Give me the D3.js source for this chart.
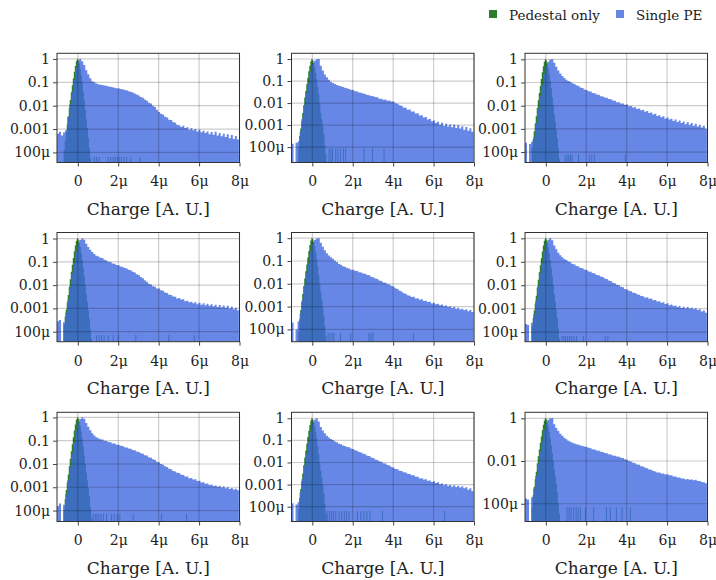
<!DOCTYPE html>
<html>
<head>
<meta charset="utf-8">
<script src="https://cdn.jsdelivr.net/npm/d3@7/dist/d3.min.js"></script>
<style>
  html, body { margin: 0; padding: 0; background: #fff; }
  svg { display: block; font-family: 'DejaVu Serif', serif; }
</style>
</head>
<body>
<div id="chart"></div>
<script>
// Pedestal vs single-PE charge histograms, 3x3 channels, log y.
// Heights are log10 of normalised counts.

// Single PE histogram: 90 bins of 0.1 uA.U. starting at -1.03 u
const speBinStart = -1.03;
const speBinWidth = 0.1;
const speLog1 = [-3.2,-3.12,-3.28,-3.15,-3.05,-2.5,-1.95,-1.4,-0.9,-0.4,-0.1,0,-0.1,-0.26,-0.48,-0.66,-0.83,-0.95,-1.0,-1.05,
  -1.08,-1.1,-1.12,-1.14,-1.15,-1.18,-1.19,-1.21,-1.23,-1.25,
  -1.26,-1.29,-1.30,-1.33,-1.34,-1.38,-1.40,-1.44,-1.48,-1.52,
  -1.57,-1.63,-1.66,-1.74,-1.79,-1.87,-1.91,-2.00,-2.06,-2.17,
  -2.27,-2.35,-2.38,-2.47,-2.51,-2.60,-2.61,-2.70,-2.73,-2.82,
  -2.84,-2.91,-2.86,-2.95,-2.92,-3.03,-2.97,-3.05,-3.0,-3.1,
  -3.03,-3.14,-3.07,-3.17,-3.1,-3.22,-3.13,-3.24,-3.12,-3.28,
  -3.17,-3.31,-3.2,-3.34,-3.22,-3.39,-3.25,-3.42,-3.3,-3.45];
const speLog2 = [-3.85,null,-3.8,-3.75,-3.3,-2.7,-2.1,-1.55,-1.1,-0.58,-0.25,-0.08,-0.01,0,-0.3,-0.52,-0.7,-0.83,-0.94,-1.03,
  -1.09,-1.13,-1.18,-1.21,-1.24,-1.27,-1.31,-1.33,-1.36,-1.40,
  -1.41,-1.46,-1.48,-1.52,-1.53,-1.57,-1.59,-1.63,-1.64,-1.68,
  -1.69,-1.73,-1.74,-1.8,-1.8,-1.85,-1.84,-1.9,-1.88,-1.93,
  -1.93,-2.01,-2.03,-2.1,-2.12,-2.2,-2.21,-2.3,-2.29,-2.38,
  -2.38,-2.48,-2.46,-2.57,-2.55,-2.66,-2.63,-2.75,-2.72,-2.83,
  -2.79,-2.91,-2.85,-2.98,-2.9,-3.04,-2.94,-3.07,-2.97,-3.1,
  -2.98,-3.13,-3.01,-3.16,-3.05,-3.21,-3.09,-3.26,-3.14,-3.3];
const speLog3 = [-3.6,null,-3.65,-3.55,-3.35,-2.75,-2.15,-1.6,-1.12,-0.62,-0.28,-0.1,-0.02,0,-0.15,-0.32,-0.48,-0.61,-0.72,-0.81,
  -0.88,-0.93,-0.97,-1.03,-1.06,-1.12,-1.15,-1.21,-1.24,-1.3,
  -1.32,-1.38,-1.39,-1.45,-1.46,-1.52,-1.53,-1.59,-1.6,-1.65,
  -1.66,-1.71,-1.72,-1.78,-1.79,-1.85,-1.85,-1.9,-1.9,-1.96,
  -1.95,-2.02,-2.01,-2.08,-2.07,-2.14,-2.12,-2.2,-2.18,-2.26,
  -2.23,-2.32,-2.29,-2.38,-2.35,-2.44,-2.41,-2.5,-2.46,-2.56,
  -2.51,-2.6,-2.56,-2.66,-2.6,-2.7,-2.64,-2.75,-2.68,-2.8,
  -2.71,-2.82,-2.75,-2.86,-2.78,-2.9,-2.82,-2.94,-2.86,-2.99];
const speLog4 = [-3.55,-3.5,null,-3.6,-3.2,-2.65,-2.05,-1.5,-1.05,-0.55,-0.22,-0.06,0,-0.05,-0.22,-0.36,-0.48,-0.58,-0.66,-0.74,
  -0.77,-0.82,-0.84,-0.91,-0.94,-1.0,-1.01,-1.07,-1.08,-1.14,
  -1.15,-1.2,-1.22,-1.27,-1.29,-1.34,-1.36,-1.43,-1.46,-1.53,
  -1.57,-1.65,-1.7,-1.79,-1.85,-1.94,-1.97,-2.05,-2.07,-2.14,
  -2.15,-2.22,-2.24,-2.32,-2.34,-2.41,-2.42,-2.49,-2.5,-2.57,
  -2.55,-2.62,-2.61,-2.69,-2.67,-2.74,-2.71,-2.78,-2.74,-2.82,
  -2.76,-2.84,-2.78,-2.86,-2.8,-2.89,-2.82,-2.91,-2.84,-2.94,
  -2.85,-2.95,-2.87,-2.97,-2.89,-3.0,-2.93,-3.04,-2.97,-3.08];
const speLog5 = [-3.7,null,-4.0,-3.65,-3.3,-2.7,-2.1,-1.55,-1.1,-0.58,-0.25,-0.08,-0.01,0,-0.2,-0.37,-0.53,-0.66,-0.76,-0.84,
  -0.9,-0.99,-1.04,-1.13,-1.17,-1.23,-1.25,-1.31,-1.33,-1.38,
  -1.38,-1.43,-1.44,-1.49,-1.5,-1.55,-1.56,-1.61,-1.63,-1.69,
  -1.71,-1.77,-1.79,-1.86,-1.88,-1.94,-1.95,-2.01,-2.03,-2.09,
  -2.12,-2.2,-2.23,-2.3,-2.34,-2.41,-2.44,-2.5,-2.52,-2.58,
  -2.57,-2.64,-2.63,-2.7,-2.68,-2.75,-2.74,-2.8,-2.79,-2.86,
  -2.83,-2.9,-2.87,-2.94,-2.91,-2.98,-2.95,-3.02,-2.98,-3.06,
  -3.02,-3.1,-3.05,-3.13,-3.09,-3.16,-3.12,-3.2,-3.15,-3.24];
const speLog6 = [-3.65,-3.7,null,-3.6,-3.25,-2.65,-2.05,-1.5,-1.05,-0.55,-0.22,-0.06,0,-0.08,-0.31,-0.47,-0.61,-0.72,-0.81,-0.88,
  -0.92,-0.99,-1.02,-1.09,-1.12,-1.18,-1.2,-1.26,-1.28,-1.33,
  -1.35,-1.41,-1.42,-1.48,-1.5,-1.56,-1.57,-1.63,-1.65,-1.71,
  -1.73,-1.8,-1.82,-1.89,-1.92,-1.98,-2.0,-2.06,-2.09,-2.16,
  -2.18,-2.24,-2.26,-2.32,-2.33,-2.39,-2.41,-2.46,-2.47,-2.53,
  -2.51,-2.58,-2.57,-2.64,-2.63,-2.69,-2.68,-2.75,-2.73,-2.8,
  -2.77,-2.85,-2.82,-2.89,-2.86,-2.93,-2.89,-2.97,-2.92,-2.99,
  -2.93,-3.0,-2.96,-3.03,-2.98,-3.06,-3.03,-3.12,-3.08,-3.17];
const speLog7 = [-3.8,-3.7,null,-3.75,-3.3,-2.7,-2.1,-1.55,-1.08,-0.56,-0.23,-0.07,0,-0.06,-0.24,-0.4,-0.55,-0.68,-0.78,-0.85,
  -0.89,-0.94,-0.95,-1.0,-1.01,-1.06,-1.07,-1.12,-1.12,-1.17,
  -1.17,-1.22,-1.23,-1.28,-1.29,-1.34,-1.35,-1.4,-1.41,-1.46,
  -1.48,-1.54,-1.56,-1.62,-1.64,-1.71,-1.73,-1.8,-1.83,-1.9,
  -1.93,-2.0,-2.03,-2.1,-2.13,-2.2,-2.23,-2.3,-2.32,-2.38,
  -2.39,-2.46,-2.47,-2.54,-2.54,-2.61,-2.6,-2.67,-2.66,-2.73,
  -2.72,-2.79,-2.78,-2.85,-2.84,-2.9,-2.88,-2.94,-2.92,-2.98,
  -2.94,-3.01,-2.97,-3.04,-3.0,-3.07,-3.03,-3.1,-3.06,-3.13];
const speLog8 = [-3.85,null,-3.9,-3.8,-3.35,-2.75,-2.15,-1.6,-1.1,-0.6,-0.24,-0.07,0,-0.15,-0.4,-0.55,-0.68,-0.79,-0.87,-0.94,
  -0.98,-1.05,-1.08,-1.15,-1.17,-1.23,-1.25,-1.3,-1.31,-1.37,
  -1.39,-1.45,-1.47,-1.53,-1.55,-1.61,-1.63,-1.69,-1.71,-1.78,
  -1.8,-1.87,-1.89,-1.95,-1.97,-2.03,-2.05,-2.11,-2.14,-2.21,
  -2.24,-2.3,-2.31,-2.37,-2.38,-2.44,-2.45,-2.51,-2.52,-2.58,
  -2.58,-2.65,-2.64,-2.72,-2.71,-2.77,-2.76,-2.83,-2.81,-2.88,
  -2.85,-2.93,-2.9,-2.98,-2.95,-3.03,-2.99,-3.06,-3.02,-3.1,
  -3.03,-3.11,-3.05,-3.13,-3.08,-3.17,-3.12,-3.23,-3.17,-3.29];
const speLog9 = [-3.75,-3.8,null,-3.7,-3.3,-2.7,-2.1,-1.55,-1.08,-0.57,-0.24,-0.07,-0.01,0,-0.28,-0.45,-0.6,-0.72,-0.82,-0.91,
  -0.98,-1.05,-1.1,-1.15,-1.18,-1.21,-1.24,-1.27,-1.3,-1.32,
  -1.34,-1.38,-1.4,-1.45,-1.46,-1.51,-1.52,-1.57,-1.58,-1.63,
  -1.64,-1.68,-1.69,-1.74,-1.75,-1.79,-1.8,-1.85,-1.86,-1.92,
  -1.94,-2.0,-2.02,-2.08,-2.1,-2.16,-2.18,-2.24,-2.26,-2.32,
  -2.34,-2.4,-2.41,-2.47,-2.49,-2.54,-2.54,-2.58,-2.58,-2.63,
  -2.62,-2.67,-2.67,-2.72,-2.72,-2.77,-2.77,-2.82,-2.82,-2.86,
  -2.84,-2.88,-2.86,-2.9,-2.88,-2.93,-2.93,-2.98,-2.99,-3.04];

// Pedestal-only histogram: 28 bins of 0.05 u from -0.7 u
const pedBinStart = -0.7;
const pedBinWidth = 0.05;
const pedLog1 = [-3.9,-3.5,-3.12,-2.8,-2.45,-2.1,-1.76,-1.44,-1.13,-0.84,-0.55,-0.3,-0.1,0,-0.05,-0.2,-0.42,-0.7,-1.02,-1.38,-1.78,-2.18,-2.58,-2.95,-3.35,-3.8,-4.25,null];
const pedLog2 = [-4.0,-3.5,-3.15,-2.8,-2.45,-2.1,-1.75,-1.45,-1.15,-0.85,-0.55,-0.3,-0.1,0,-0.05,-0.18,-0.38,-0.62,-0.92,-1.25,-1.62,-2.0,-2.45,-2.75,-3.05,-3.4,-3.9,-4.3];
const pedLog3 = [-3.8,-3.45,-3.1,-2.78,-2.45,-2.1,-1.77,-1.45,-1.15,-0.85,-0.56,-0.3,-0.1,0,-0.04,-0.17,-0.37,-0.62,-0.92,-1.25,-1.62,-2.0,-2.38,-2.7,-3.05,-3.4,-3.85,-4.3];
const pedLog4 = [-3.7,-3.35,-3.05,-2.75,-2.42,-2.08,-1.75,-1.43,-1.13,-0.84,-0.55,-0.3,-0.1,0,-0.04,-0.17,-0.37,-0.62,-0.92,-1.25,-1.62,-2.0,-2.38,-2.72,-3.08,-3.45,-3.9,-4.3];
const pedLog5 = [-4.1,-3.55,-3.15,-2.8,-2.45,-2.1,-1.77,-1.45,-1.15,-0.85,-0.56,-0.3,-0.1,0,-0.04,-0.17,-0.37,-0.62,-0.92,-1.25,-1.62,-2.0,-2.38,-2.7,-3.05,-3.4,-3.85,-4.3];
const pedLog6 = [-3.75,-3.4,-3.08,-2.78,-2.45,-2.1,-1.77,-1.45,-1.15,-0.85,-0.56,-0.3,-0.1,0,-0.04,-0.17,-0.37,-0.62,-0.92,-1.25,-1.62,-2.0,-2.38,-2.7,-3.05,-3.4,-3.85,-4.3];
const pedLog7 = [-3.95,-3.5,-3.12,-2.8,-2.45,-2.1,-1.77,-1.45,-1.15,-0.85,-0.56,-0.3,-0.1,0,-0.04,-0.17,-0.37,-0.62,-0.92,-1.25,-1.62,-2.0,-2.38,-2.7,-3.05,-3.4,-3.85,-4.3];
const pedLog8 = [-4.1,-3.6,-3.2,-2.85,-2.5,-2.12,-1.78,-1.46,-1.15,-0.85,-0.56,-0.3,-0.1,0,-0.04,-0.17,-0.37,-0.62,-0.92,-1.25,-1.62,-2.0,-2.38,-2.7,-3.05,-3.4,-3.85,-4.3];
const pedLog9 = [-4.2,-3.6,-3.2,-2.85,-2.5,-2.12,-1.78,-1.46,-1.15,-0.85,-0.56,-0.3,-0.1,0,-0.04,-0.17,-0.37,-0.62,-0.92,-1.25,-1.62,-2.0,-2.38,-2.72,-3.08,-3.45,-3.95,-4.45];

// lone pedestal counts far out in the tail (bin centre in u, one shared height per panel)
const pedLone1 = [0.82,0.93,1.05,1.5,1.62,1.75,1.85,1.95,2.05,2.15,2.28,2.42,2.62,3.08];
const pedLone2 = [0.83,0.92,1.0,1.16,1.27,1.4,1.54,1.65,2.56,2.98,3.55];
const pedLone3 = [0.96,1.05,1.13,1.22,1.3,1.62,2.15,2.27,2.4,3.93];
const pedLone4 = [0.92,1.05,1.17,1.3,1.5,1.75,2.0,2.87,4.5,5.76];
const pedLone5 = [0.78,0.88,0.98,1.07,1.4,1.9,2.8,2.9,3.0,5.0];
const pedLone6 = [0.8,0.9,0.98,1.08,1.18,1.28,1.4,1.53,1.86,2.94,3.07];
const pedLone7 = [0.76,0.86,0.95,1.05,1.15,1.27,1.42,1.67,1.8,1.95,2.08,2.74,4.14,5.38];
const pedLone8 = [0.74,0.84,0.95,1.05,1.16,1.32,1.45,1.58,1.7,1.82,2.23,2.4,2.55,2.7,2.85,3.47,6.55];
const pedLone9 = [1.05,1.15,1.25,1.38,1.5,1.6,1.71,1.96,2.37,3.0,3.19,3.49,3.77,4.18];
const pedLoneLog = [-4.19,-4.06,-4.11,-4.14,-4.15,-4.17,-4.14,-4.19,-4.16];

// y range of each panel, log10 [bottom, top]
const yRangeLog = [[-4.43,0.24],[-4.70,0.26],[-4.45,0.26],[-4.43,0.26],[-4.54,0.25],
                   [-4.41,0.25],[-4.47,0.22],[-4.67,0.27],[-4.83,0.28]];

const xTicks = [0, 2e-6, 4e-6, 6e-6, 8e-6];
const xTickLabels = ['0', '2μ', '4μ', '6μ', '8μ'];
const yTicks = [1, 0.1, 0.01, 0.001, 1e-4];
const yTickLabels = ['1', '0.1', '0.01', '0.001', '100μ'];
const yTicksSparse = [1, 0.01, 1e-4];
const yTickLabelsSparse = ['1', '0.01', '100μ'];
const xLabel = 'Charge [A. U.]';
const seriesNames = ['Pedestal only', 'Single PE'];

const speAll = [speLog1, speLog2, speLog3, speLog4, speLog5, speLog6, speLog7, speLog8, speLog9];
const pedAll = [pedLog1, pedLog2, pedLog3, pedLog4, pedLog5, pedLog6, pedLog7, pedLog8, pedLog9];
const loneAll = [pedLone1, pedLone2, pedLone3, pedLone4, pedLone5, pedLone6, pedLone7, pedLone8, pedLone9];

// --- layout ---
const W = 716, H = 580;
const COL_X = [57, 291.5, 525];
const ROW_Y = [53.3, 232.5, 412.3];
const PW = 182.5, PH = 109.2;
const X_MIN = -1.03e-6, X_MAX = 8e-6;

const GREEN = '#2d7d2f';
const BLUE = 'royalblue';
const BLUE_OP = 0.8;
const GRID = 'rgba(0,0,0,0.2)';
const INK = '#222';

const svg = d3.select('#chart').append('svg')
  .attr('width', W).attr('height', H)
  .attr('viewBox', `0 0 ${W} ${H}`);

// Legend
const leg = svg.append('g').attr('font-size', 13.5).attr('fill', INK);
leg.append('rect').attr('x', 489).attr('y', 10).attr('width', 8).attr('height', 8).attr('fill', GREEN);
leg.append('text').attr('x', 509).attr('y', 20).text(seriesNames[0]);
leg.append('rect').attr('x', 616).attr('y', 10).attr('width', 8).attr('height', 8)
  .attr('fill', BLUE).attr('fill-opacity', BLUE_OP);
leg.append('text').attr('x', 636).attr('y', 20).text(seriesNames[1]);

// Turns a list of {x0, x1, v(log10)} into one path of bars standing on the bottom
function barsPath(bins, x, y, bottomLog) {
  let d = '';
  for (const b of bins) {
    if (b.v === null || b.v <= bottomLog) continue;
    const y0 = y(Math.pow(10, b.v));
    d += `M${x(b.x0)},${PH}V${y0}H${x(b.x1)}V${PH}Z`;
  }
  return d;
}

for (let k = 0; k < 9; k++) {
  const col = k % 3, row = Math.floor(k / 3);
  const [lo, hi] = yRangeLog[k];

  const x = d3.scaleLinear().domain([X_MIN, X_MAX]).range([0, PW]);
  const y = d3.scaleLog().domain([Math.pow(10, lo), Math.pow(10, hi)]).range([PH, 0]);

  const g = svg.append('g').attr('transform', `translate(${COL_X[col]},${ROW_Y[row]})`);

  g.append('clipPath').attr('id', `clip${k}`)
    .append('rect').attr('width', PW).attr('height', PH);
  const plot = g.append('g').attr('clip-path', `url(#clip${k})`);

  // pedestal bins + lone counts
  const pedBins = pedAll[k].map((v, i) => ({
    x0: (pedBinStart + i * pedBinWidth) * 1e-6,
    x1: (pedBinStart + (i + 1) * pedBinWidth) * 1e-6,
    v,
  }));
  for (const c of loneAll[k]) {
    pedBins.push({ x0: (c - pedBinWidth / 2) * 1e-6, x1: (c + pedBinWidth / 2) * 1e-6, v: pedLoneLog[k] });
  }
  plot.append('path')
    .attr('d', barsPath(pedBins, x, y, lo))
    .attr('fill', GREEN);

  // single PE bins on top, semi-transparent
  const speBins = speAll[k].map((v, i) => ({
    x0: (speBinStart + i * speBinWidth) * 1e-6,
    x1: (speBinStart + (i + 1) * speBinWidth) * 1e-6,
    v,
  }));
  plot.append('path')
    .attr('d', barsPath(speBins, x, y, lo))
    .attr('fill', BLUE)
    .attr('fill-opacity', BLUE_OP);

  const sparse = k === 8;
  const yt = sparse ? yTicksSparse : yTicks;
  const ytl = sparse ? yTickLabelsSparse : yTickLabels;

  // grid over the bars
  const grid = g.append('g').attr('stroke', GRID).attr('stroke-width', 1.2);
  grid.selectAll('.gx').data(xTicks).enter().append('line')
    .attr('x1', d => x(d)).attr('x2', d => x(d))
    .attr('y1', 0).attr('y2', PH);
  grid.selectAll('.gy').data(yt).enter().append('line')
    .attr('x1', 0).attr('x2', PW)
    .attr('y1', d => y(d)).attr('y2', d => y(d));

  // axes
  const yAxis = d3.axisLeft(y)
    .tickValues(yt)
    .tickFormat((d, i) => ytl[i])
    .tickSize(4).tickPadding(3);
  g.append('g').call(yAxis)
    .call(a => a.select('.domain').remove())
    .call(a => a.selectAll('.tick line').attr('stroke', '#444'))
    .call(a => a.selectAll('.tick text')
      .attr('fill', INK).attr('font-size', 14)
      .attr('font-family', "'DejaVu Serif', serif"));

  const xAxis = d3.axisBottom(x)
    .tickValues(xTicks)
    .tickFormat((d, i) => xTickLabels[i])
    .tickSize(4).tickPadding(10);
  g.append('g').attr('transform', `translate(0,${PH})`).call(xAxis)
    .call(a => a.select('.domain').remove())
    .call(a => a.selectAll('.tick line').attr('stroke', '#444'))
    .call(a => a.selectAll('.tick text')
      .attr('fill', INK).attr('font-size', 14)
      .attr('font-family', "'DejaVu Serif', serif"));

  // frame
  g.append('rect')
    .attr('width', PW).attr('height', PH)
    .attr('fill', 'none').attr('stroke', '#333').attr('stroke-width', 1);

  // axis title
  g.append('text')
    .attr('x', PW / 2).attr('y', PH + 52.5)
    .attr('text-anchor', 'middle')
    .attr('font-size', 17).attr('fill', INK)
    .text(xLabel);
}
</script>
</body>
</html>
